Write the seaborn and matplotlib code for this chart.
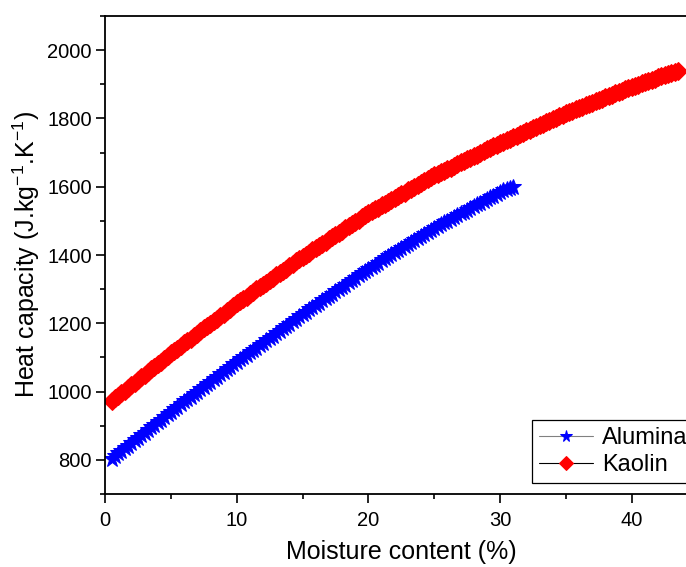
import numpy as np
import matplotlib
matplotlib.use("Agg")
import matplotlib.pyplot as plt
from matplotlib.ticker import MultipleLocator
import seaborn as sns

# Dados (teor de umidade em %, capacidade térmica em J/kg.K)
umidade_alumina = [0.5, 0.75, 1.0, 1.25, 1.5, 1.75, 2.0, 2.25, 2.5, 2.75, 3.0, 3.25, 3.5, 3.75, 4.0, 4.25, 4.5, 4.75, 5.0,
                   5.25, 5.5, 5.75, 6.0, 6.25, 6.5, 6.75, 7.0, 7.25, 7.5, 7.75, 8.0, 8.25, 8.5, 8.75, 9.0, 9.25, 9.5, 9.75, 10.0,
                   10.25, 10.5, 10.75, 11.0, 11.25, 11.5, 11.75, 12.0, 12.25, 12.5, 12.75, 13.0, 13.25, 13.5, 13.75, 14.0, 14.25, 14.5, 14.75, 15.0,
                   15.25, 15.5, 15.75, 16.0, 16.25, 16.5, 16.75, 17.0, 17.25, 17.5, 17.75, 18.0, 18.25, 18.5, 18.75, 19.0, 19.25, 19.5, 19.75, 20.0,
                   20.25, 20.5, 20.75, 21.0, 21.25, 21.5, 21.75, 22.0, 22.25, 22.5, 22.75, 23.0, 23.25, 23.5, 23.75, 24.0, 24.25, 24.5, 24.75, 25.0,
                   25.25, 25.5, 25.75, 26.0, 26.25, 26.5, 26.75, 27.0, 27.25, 27.5, 27.75, 28.0, 28.25, 28.5, 28.75, 29.0, 29.25, 29.5, 29.75, 30.0,
                   30.25, 30.5, 30.75, 31.0]
cp_alumina = [804, 812, 819, 827, 835, 842, 850, 857, 865, 873, 880, 888, 896, 903, 911, 918, 926, 934, 941,
              949, 956, 963, 971, 978, 985, 992, 1000, 1007, 1014, 1022, 1029, 1036, 1044, 1051, 1058, 1065, 1073, 1080, 1087,
              1094, 1101, 1108, 1115, 1122, 1129, 1136, 1143, 1150, 1157, 1164, 1171, 1178, 1185, 1192, 1199, 1206, 1213, 1220, 1227,
              1234, 1241, 1247, 1254, 1260, 1267, 1274, 1280, 1287, 1294, 1300, 1307, 1313, 1320, 1327, 1333, 1340, 1347, 1353, 1360,
              1366, 1372, 1378, 1384, 1390, 1396, 1402, 1408, 1414, 1420, 1426, 1432, 1438, 1444, 1450, 1456, 1462, 1468, 1474, 1480,
              1485, 1490, 1496, 1501, 1506, 1511, 1517, 1522, 1527, 1532, 1538, 1543, 1548, 1553, 1559, 1564, 1569, 1574, 1580, 1585,
              1589, 1592, 1596, 1600]

umidade_caulim = [0.5, 0.75, 1.0, 1.25, 1.5, 1.75, 2.0, 2.25, 2.5, 2.75, 3.0, 3.25, 3.5, 3.75, 4.0, 4.25, 4.5, 4.75, 5.0,
                  5.25, 5.5, 5.75, 6.0, 6.25, 6.5, 6.75, 7.0, 7.25, 7.5, 7.75, 8.0, 8.25, 8.5, 8.75, 9.0, 9.25, 9.5, 9.75, 10.0,
                  10.25, 10.5, 10.75, 11.0, 11.25, 11.5, 11.75, 12.0, 12.25, 12.5, 12.75, 13.0, 13.25, 13.5, 13.75, 14.0, 14.25, 14.5, 14.75, 15.0,
                  15.25, 15.5, 15.75, 16.0, 16.25, 16.5, 16.75, 17.0, 17.25, 17.5, 17.75, 18.0, 18.25, 18.5, 18.75, 19.0, 19.25, 19.5, 19.75, 20.0,
                  20.25, 20.5, 20.75, 21.0, 21.25, 21.5, 21.75, 22.0, 22.25, 22.5, 22.75, 23.0, 23.25, 23.5, 23.75, 24.0, 24.25, 24.5, 24.75, 25.0,
                  25.25, 25.5, 25.75, 26.0, 26.25, 26.5, 26.75, 27.0, 27.25, 27.5, 27.75, 28.0, 28.25, 28.5, 28.75, 29.0, 29.25, 29.5, 29.75, 30.0,
                  30.25, 30.5, 30.75, 31.0, 31.25, 31.5, 31.75, 32.0, 32.25, 32.5, 32.75, 33.0, 33.25, 33.5, 33.75, 34.0, 34.25, 34.5, 34.75, 35.0,
                  35.25, 35.5, 35.75, 36.0, 36.25, 36.5, 36.75, 37.0, 37.25, 37.5, 37.75, 38.0, 38.25, 38.5, 38.75, 39.0, 39.25, 39.5, 39.75, 40.0,
                  40.25, 40.5, 40.75, 41.0, 41.25, 41.5, 41.75, 42.0, 42.25, 42.5, 42.75, 43.0, 43.25, 43.5]
cp_caulim = [972, 980, 988, 995, 1003, 1011, 1019, 1026, 1034, 1042, 1050, 1057, 1065, 1073, 1081, 1088, 1096, 1104, 1112,
             1119, 1126, 1133, 1141, 1148, 1155, 1163, 1170, 1177, 1185, 1192, 1199, 1206, 1214, 1221, 1228, 1236, 1243, 1250, 1258,
             1264, 1271, 1278, 1285, 1292, 1299, 1305, 1312, 1319, 1326, 1333, 1340, 1347, 1353, 1360, 1367, 1374, 1381, 1388, 1395,
             1401, 1407, 1414, 1420, 1427, 1433, 1439, 1446, 1452, 1459, 1465, 1471, 1478, 1484, 1491, 1497, 1503, 1510, 1516, 1523,
             1528, 1534, 1539, 1545, 1550, 1556, 1561, 1567, 1572, 1578, 1583, 1589, 1594, 1600, 1605, 1611, 1616, 1622, 1627, 1633,
             1637, 1642, 1647, 1652, 1656, 1661, 1666, 1671, 1675, 1680, 1685, 1690, 1694, 1699, 1704, 1709, 1713, 1718, 1723, 1728,
             1732, 1736, 1741, 1745, 1749, 1754, 1758, 1763, 1767, 1771, 1776, 1780, 1784, 1789, 1793, 1798, 1802, 1806, 1811, 1815,
             1819, 1823, 1827, 1831, 1834, 1838, 1842, 1846, 1850, 1854, 1858, 1862, 1865, 1869, 1873, 1877, 1881, 1885, 1889, 1893,
             1896, 1899, 1903, 1906, 1909, 1913, 1916, 1920, 1923, 1926, 1930, 1933, 1936, 1940]

sns.set_style("ticks")
plt.rcParams['font.family'] = ['Liberation Sans', 'DejaVu Sans']
plt.rcParams['mathtext.fontset'] = 'custom'
plt.rcParams['mathtext.rm'] = 'Liberation Sans'
plt.rcParams['mathtext.it'] = 'Liberation Sans:italic'
plt.rcParams['axes.unicode_minus'] = False
plt.rcParams['text.color'] = 'black'
plt.rcParams['axes.labelcolor'] = 'black'
plt.rcParams['xtick.color'] = 'black'
plt.rcParams['ytick.color'] = 'black'

fig = plt.figure(figsize=(6.86, 5.67), dpi=100)
ax = fig.add_axes([0.1531, 0.1287, 1.0169 - 0.1531, 0.9718 - 0.1287])

sns.lineplot(x=umidade_alumina, y=cp_alumina, ax=ax, color='gray', linewidth=0.8,
             marker='*', markersize=12, markerfacecolor='blue', markeredgecolor='blue',
             label='Alumina')
sns.lineplot(x=umidade_caulim, y=cp_caulim, ax=ax, color='black', linewidth=0.8,
             marker='D', markersize=9.5, markerfacecolor='red', markeredgecolor='red',
             label='Kaolin')

ax.set_xlim(0, 45)
ax.set_ylim(700, 2100)
ax.xaxis.set_major_locator(MultipleLocator(10))
ax.xaxis.set_minor_locator(MultipleLocator(5))
ax.yaxis.set_minor_locator(MultipleLocator(100))
ax.set_yticks([800, 1000, 1200, 1400, 1600, 1800, 2000])

ax.tick_params(which='major', direction='out', length=6.5, width=1.2,
               labelsize=14.5, colors='black', pad=3)
ax.tick_params(which='minor', direction='out', length=3.5, width=1.2, colors='black')
ax.tick_params(axis='x', which='major', pad=6)
for s in ax.spines.values():
    s.set_linewidth(1.3)
    s.set_color('black')

ax.set_xlabel("Moisture content (%)", fontsize=18)
ax.set_ylabel("Heat capacity (J.kg$^{-1}$.K$^{-1}$)", fontsize=18)
ax.xaxis.set_label_coords(0.5, -0.097)
ax.yaxis.set_label_coords(-0.106, 0.5)

leg = ax.legend(loc='upper left', bbox_to_anchor=(532 / 686, 1 - 420 / 567),
                bbox_transform=fig.transFigure, borderaxespad=0, fontsize=17,
                frameon=True, fancybox=False, framealpha=1, edgecolor='black',
                borderpad=0.3, handlelength=2.3, handletextpad=0.35, labelspacing=0.2,
                markerscale=0.7)
leg.get_frame().set_linewidth(0.9)

plt.savefig("out.png", dpi=100)
